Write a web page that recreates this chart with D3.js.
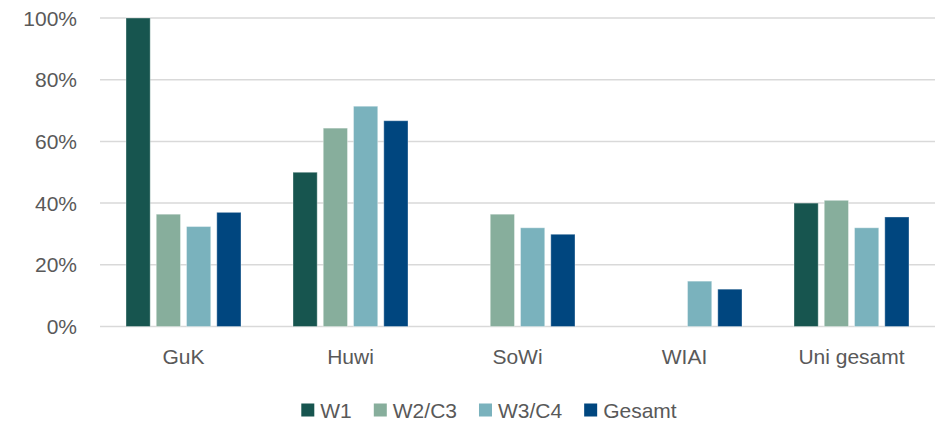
<!DOCTYPE html>
<html>
<head>
<meta charset="utf-8">
<script src="https://cdn.jsdelivr.net/npm/d3@7"></script>
<style>
  html, body { margin: 0; padding: 0; background: #ffffff; }
  svg { display: block; }
  text { font-family: "Liberation Sans", Arial, sans-serif; fill: #595959; }
</style>
</head>
<body>
<svg id="chart" width="935" height="424"></svg>
<script>
const categories = ["GuK", "Huwi", "SoWi", "WIAI", "Uni gesamt"];
const seriesNames = ["W1", "W2/C3", "W3/C4", "Gesamt"];
const seriesColors = ["#17554F", "#87AE9C", "#7AB2BD", "#00467F"];
const w1     = [100, 50, null, null, 40];
const w2c3   = [36.4, 64.3, 36.4, null, 40.9];
const w3c4   = [32.4, 71.4, 32.0, 14.7, 32.0];
const gesamt = [37.0, 66.7, 29.9, 12.1, 35.5];
const yTicks = [0, 20, 40, 60, 80, 100];

const seriesValues = [w1, w2c3, w3c4, gesamt];

(function () {
const svg = d3.select("#chart");
const mLeft = 100, mRight = 935, mTop = 18, mBottom = 326.5;
const fs = 21;

const x0 = d3.scaleBand().domain(categories).range([mLeft, mRight]).paddingInner(0).paddingOuter(0);
const x1 = d3.scaleBand().domain(seriesNames).range([26, x0.bandwidth() - 26]).paddingInner(0.2).paddingOuter(0);
const y = d3.scaleLinear().domain([0, 100]).range([mBottom, mTop]);

// gridlines
svg.append("g").selectAll("line").data(yTicks).join("line")
  .attr("x1", mLeft).attr("x2", mRight)
  .attr("y1", d => y(d)).attr("y2", d => y(d))
  .attr("stroke", "#d9d9d9").attr("stroke-width", 1.5);

// y tick labels
svg.append("g").selectAll("text").data(yTicks).join("text")
  .attr("x", 77).attr("y", d => y(d))
  .attr("dy", "0.36em")
  .attr("text-anchor", "end")
  .attr("font-size", fs)
  .text(d => d + "%");

// bars
const barData = [];
categories.forEach((c, ci) => {
  seriesNames.forEach((s, si) => {
    const v = seriesValues[si][ci];
    if (v != null) barData.push({ c, s, si, v });
  });
});
svg.append("g").selectAll("rect").data(barData).join("rect")
  .attr("x", d => x0(d.c) + x1(d.s))
  .attr("width", x1.bandwidth())
  .attr("y", d => y(d.v))
  .attr("height", d => y(0) - y(d.v))
  .attr("fill", d => seriesColors[d.si])
  .attr("stroke", "#ffffff").attr("stroke-opacity", 0.35).attr("stroke-width", 1);

// x labels
svg.append("g").selectAll("text").data(categories).join("text")
  .attr("x", d => x0(d) + x0.bandwidth() / 2)
  .attr("y", 356)
  .attr("dy", "0.36em")
  .attr("text-anchor", "middle")
  .attr("font-size", fs)
  .text(d => d);

// legend
const legend = svg.append("g");
let cx = 0;
const items = [];
seriesNames.forEach((s, i) => {
  const g = legend.append("g");
  g.append("rect").attr("x", 0).attr("y", -6.5).attr("width", 13).attr("height", 13).attr("fill", seriesColors[i]);
  const t = g.append("text").attr("x", 19).attr("y", 0).attr("dy", "0.36em").attr("font-size", fs).text(s);
  const w = 19 + t.node().getComputedTextLength();
  items.push({ g, w });
});
items.forEach((it) => {
  it.g.attr("transform", `translate(${cx},0)`);
  cx += it.w + 22;
});
const total = cx - 22;
legend.attr("transform", `translate(${489 - total / 2},410)`);
})();
</script>
</body>
</html>
